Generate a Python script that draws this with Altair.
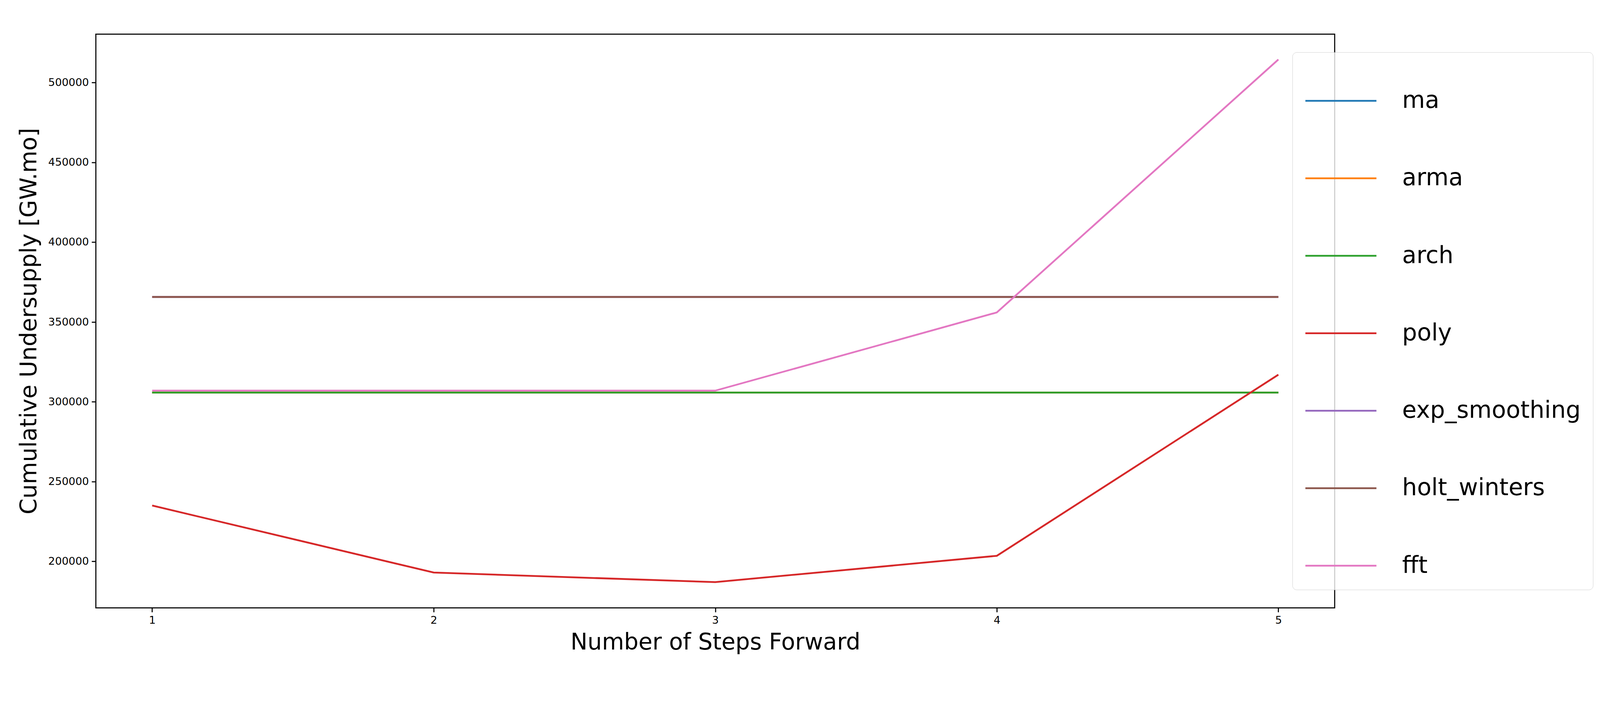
import altair as alt
import pandas as pd

steps = [1, 2, 3, 4, 5]
series = ["ma", "arma", "arch", "poly", "exp_smoothing", "holt_winters", "fft"]
colors = ["#1f77b4", "#ff7f0e", "#2ca02c", "#d62728", "#9467bd", "#8c564b", "#e377c2"]
values = {
    "ma": [305800, 305800, 305800, 305800, 305800],
    "arma": [305800, 305800, 305800, 305800, 305800],
    "arch": [305800, 305800, 305800, 305800, 305800],
    "poly": [235000, 193000, 187000, 203500, 317000],
    "exp_smoothing": [365700, 365700, 365700, 365700, 365700],
    "holt_winters": [365700, 365700, 365700, 365700, 365700],
    "fft": [307000, 307000, 307000, 356000, 514500],
}
rows = []
for i, s in enumerate(series):
    for x, v in zip(steps, values[s]):
        rows.append({"step": x, "value": v, "model": s, "order": i})
df = pd.DataFrame(rows)

chart = alt.Chart(df).mark_line(strokeWidth=5, clip=True).encode(
    x=alt.X("step:Q", scale=alt.Scale(domain=[0.8, 5.2], nice=False, zero=False),
            axis=alt.Axis(values=steps, format="d", title="Number of Steps Forward", grid=False,
                          labelFontSize=30, titleFontSize=64, tickSize=12, tickWidth=3,
                          labelPadding=8, titlePadding=16, domain=False)),
    y=alt.Y("value:Q", scale=alt.Scale(domain=[170900, 530400], nice=False, zero=False),
            axis=alt.Axis(values=[200000, 250000, 300000, 350000, 400000, 450000, 500000],
                          format="d", title="Cumulative Undersupply [GW.mo]", grid=False,
                          labelFontSize=30, titleFontSize=64, tickSize=12, tickWidth=3,
                          labelPadding=8, titlePadding=20, domain=False)),
    color=alt.Color("model:N", scale=alt.Scale(domain=series, range=colors),
                    legend=alt.Legend(title=None, orient="none", legendX=3368, legendY=51,
                                      labelFontSize=66, labelLimit=0, symbolType="stroke",
                                      symbolSize=40000, symbolStrokeWidth=5, rowPadding=82,
                                      padding=34, labelOffset=70,
                                      fillColor="rgba(255,255,255,0.8)",
                                      strokeColor="#cccccc", cornerRadius=12)),
    order="order:Q",
    detail="model:N",
).properties(
    width=3487, height=1614,
    padding={"left": 42, "top": 0, "right": 10, "bottom": 10},
).configure(font="DejaVu Sans").configure_view(
    stroke="black", strokeWidth=3
).configure_axis(
    labelFont="DejaVu Sans", titleFont="DejaVu Sans", titleFontWeight="normal",
    labelColor="black", titleColor="black", tickColor="black"
).configure_legend(labelFont="DejaVu Sans", labelColor="black")

chart.save("out.html", embed_options={"renderer": "svg", "actions": False})
